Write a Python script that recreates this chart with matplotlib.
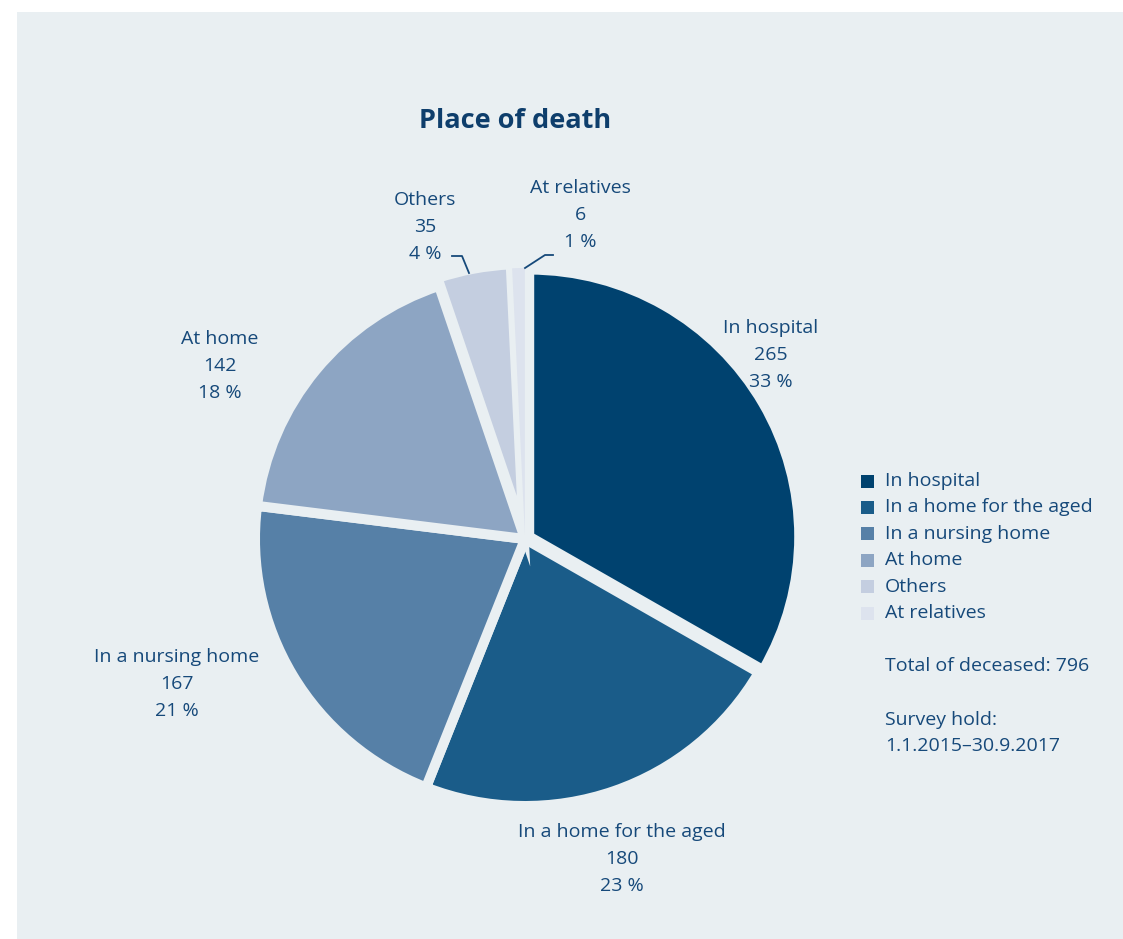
import matplotlib
matplotlib.use("Agg")
import matplotlib.pyplot as plt
from matplotlib.patches import Rectangle

plt.rcParams['font.family'] = ['Open Sans', 'DejaVu Sans']

# Data
categories = ["In hospital", "In a home for the aged", "In a nursing home",
              "At home", "Others", "At relatives"]
counts = [265, 180, 167, 142, 35, 6]
percents = [33, 23, 21, 18, 4, 1]
total = 796
survey_period = "1.1.2015–30.9.2017"

colors = ["#00426F", "#1A5C89", "#5680A7", "#8DA5C3", "#C4CEE0", "#DDE3EE"]
bg = "#E9EFF2"
txt = "#16497A"

W, H = 1123, 939
fig = plt.figure(figsize=(W / 100, H / 100), dpi=100)
fig.patch.set_facecolor("white")

# Panel background behind everything
fig.patches.append(Rectangle((17 / W, 0), (W - 17) / W, (H - 12) / H,
                             transform=fig.transFigure, facecolor=bg,
                             edgecolor="none", zorder=-1))

# Pie: wedge outlines in the panel colour open up the gaps between slices
cx, cy = 525, 539
rx, ry = 270, 267          # path radius in px (visible radius is ~5 px less)
lim = 1.1
ax = fig.add_axes([(cx - lim * rx) / W, (H - cy - lim * ry) / H,
                   2 * lim * rx / W, 2 * lim * ry / H])
explode = [0.018, 0, 0, 0, 0.03, 0.015]
wedges, _ = ax.pie(counts, colors=colors, startangle=90, counterclock=False,
                   radius=1, explode=explode,
                   wedgeprops=dict(edgecolor=bg, linewidth=7.2))
# the thinnest slice keeps its full width on top of the neighbouring outlines
wedges[-1].set_linewidth(0)
wedges[-1].set_zorder(5)
ax.set_xlim(-lim, lim)
ax.set_ylim(-lim, lim)
ax.set_aspect("auto")
ax.axis("off")

# Overlay in pixel units for title, labels and legend (above the pie)
ov = fig.add_axes([0, 0, 1, 1])
ov.set_xlim(0, W)
ov.set_ylim(H, 0)
ov.axis("off")
ov.set_zorder(3)

ov.text(515, 121, "Place of death", ha="center", va="center", fontsize=19.5,
        fontweight="bold", color="#0E3E6C")

fs = 14
label_pos = [(771, 355), (622, 859), (177, 684), (220, 366), (425, 227), (580, 215)]
for (x, y), name, n, p in zip(label_pos, categories, counts, percents):
    ov.text(x, y - 27, name, ha="center", va="center", fontsize=fs, color=txt)
    ov.text(x, y, str(n), ha="center", va="center", fontsize=fs, color=txt)
    ov.text(x, y + 27, f"{p} %", ha="center", va="center", fontsize=fs, color=txt)

# Leader lines for the small slices
ov.plot([452, 462, 469], [256, 256, 273], color=txt, lw=1.3)
ov.plot([553, 545, 525], [255, 255, 268], color=txt, lw=1.3)

# Legend
ly0, dy = 481, 26.4
for i, (name, c) in enumerate(zip(categories, colors)):
    y = ly0 + i * dy
    ov.add_patch(Rectangle((861, y - 6.5), 13, 13, facecolor=c, edgecolor="none"))
    ov.text(885, y, name, ha="left", va="center", fontsize=fs, color=txt)

ov.text(885, 666, f"Total of deceased: {total}", ha="left", va="center", fontsize=fs, color=txt)
ov.text(885, 720, "Survey hold:", ha="left", va="center", fontsize=fs, color=txt)
ov.text(885, 746, survey_period, ha="left", va="center", fontsize=fs, color=txt)

fig.savefig("out.png", dpi=100, facecolor=fig.get_facecolor())
